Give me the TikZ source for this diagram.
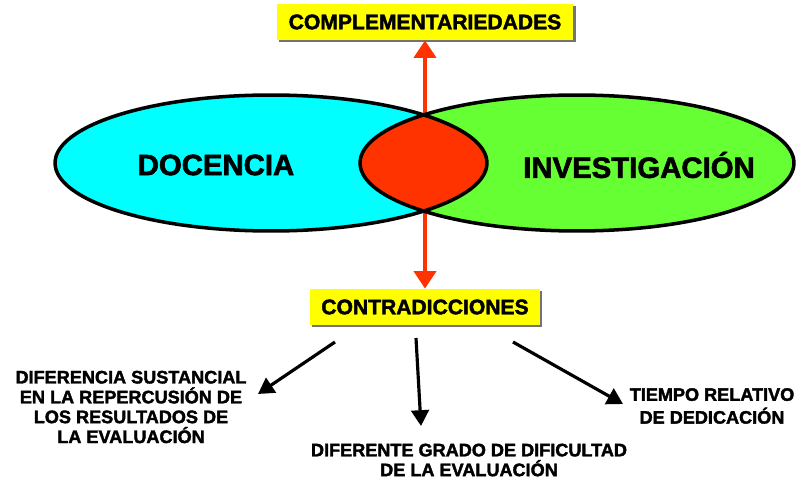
\documentclass[tikz,border=0pt]{standalone}
\usepackage{fontspec}
\setmainfont{Liberation Sans}[BoldFeatures={FakeBold=2}]
\usetikzlibrary{arrows.meta,shadows}
\definecolor{doccyan}{HTML}{00FFFF}
\definecolor{invgreen}{HTML}{66FF33}
\definecolor{lensred}{HTML}{FF3300}
\definecolor{tagyellow}{HTML}{FFFF00}
\tikzset{
  tagbox/.style={fill=tagyellow, inner sep=0pt, minimum height=0.72cm,
    font=\fontsize{12}{14}\selectfont\bfseries,
    drop shadow={shadow xshift=1.2pt, shadow yshift=-1.2pt, fill=black!55, opacity=1}},
  bigword/.style={font=\fontsize{16.7}{20}\selectfont\bfseries},
  note/.style={align=center, inner sep=0pt},
  redline/.style={draw=lensred, line width=2.3pt, {Triangle[width=12.5pt,length=10pt]}-{Triangle[width=12.5pt,length=10pt]}},
  blackline/.style={draw=black, line width=1.8pt, -{Triangle[width=10pt,length=9pt]}},
  outline/.style={draw=black, line width=2pt}
}
\begin{document}
\begin{tikzpicture}[x=0.02cm, y=-0.02cm]
      \useasboundingbox (0,0) rectangle (804,483);
      % boxes
      \node[tagbox, minimum width=5.94cm] (comp) at (425,22) {COMPLEMENTARIEDADES};
      \node[tagbox, minimum width=4.6cm] (cont) at (425,307) {CONTRADICCIONES};
      \draw[redline] (comp.south) -- (cont.north);
      % ellipses
      \fill[doccyan] (271,163) ellipse [x radius=4.32cm, y radius=1.36cm];
      \fill[invgreen] (577,163) ellipse [x radius=4.34cm, y radius=1.36cm];
      \begin{scope}
        \clip (271,163) ellipse [x radius=4.32cm, y radius=1.36cm];
        \fill[lensred] (577,163) ellipse [x radius=4.34cm, y radius=1.36cm];
      \end{scope}
      \draw[outline] (271,163) ellipse [x radius=4.32cm, y radius=1.36cm];
      \draw[outline] (577,163) ellipse [x radius=4.34cm, y radius=1.36cm];
      \node[bigword] (doc) at (216,165) {DOCENCIA};
      \node[bigword] (inv) at (639,165) {INVESTIGACIÓN};
      % consequences
      \node[note, font=\fontsize{10.3}{11.3}\selectfont\bfseries] (rep) at (131,407)
        {DIFERENCIA SUSTANCIAL\\EN LA REPERCUSIÓN DE\\LOS RESULTADOS DE\\LA EVALUACIÓN};
      \node[note, font=\fontsize{10.3}{11.3}\selectfont\bfseries] (dif) at (469,460)
        {DIFERENTE GRADO DE DIFICULTAD\\DE LA EVALUACIÓN};
      \node[note, font=\fontsize{10.3}{13}\selectfont\bfseries] (tie) at (712,406)
        {TIEMPO RELATIVO\\DE DEDICACIÓN};
      \coordinate (s1) at (335,342);
      \coordinate (s2) at (416,338);
      \coordinate (s3) at (513,342);
      \coordinate (e1) at (258,394);
      \coordinate (e2) at (421,426);
      \coordinate (e3) at (623,404);
      \begin{scope}[blackline]
        \draw (s1) to (e1);
        \draw (s2) to (e2);
        \draw (s3) to (e3);
      \end{scope}
    \end{tikzpicture}
\end{document}
